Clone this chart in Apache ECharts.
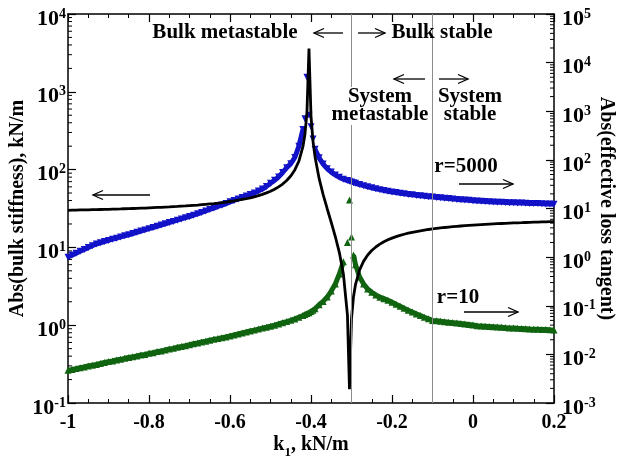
<!DOCTYPE html>
<html>
<head>
<meta charset="utf-8">
<script src="https://cdn.jsdelivr.net/npm/echarts@6/dist/echarts.min.js"></script>
<style>
  html, body { margin: 0; padding: 0; background: #fff; }
  #chart { width: 619px; height: 466px; }
</style>
</head>
<body>
<div id="chart"></div>
<script>
// k1 sample points (kN/m), shared by all three curves
const kValues = [
  -1.00, -0.99, -0.98, -0.97, -0.96, -0.95, -0.94, -0.93, -0.92, -0.91,
  -0.90, -0.89, -0.88, -0.87, -0.86, -0.85, -0.84, -0.83, -0.82, -0.81,
  -0.80, -0.79, -0.78, -0.77, -0.76, -0.75, -0.74, -0.73, -0.72, -0.71,
  -0.70, -0.69, -0.68, -0.67, -0.66, -0.65, -0.64, -0.63, -0.62, -0.61,
  -0.60, -0.59, -0.58, -0.57, -0.56, -0.55, -0.54, -0.53, -0.52, -0.51,
  -0.50, -0.49, -0.48, -0.47, -0.46, -0.45, -0.44, -0.43, -0.42,
  -0.415, -0.41, -0.405, -0.40, -0.395,
  -0.39, -0.38, -0.37, -0.36, -0.35, -0.34, -0.33, -0.32, -0.31,
  -0.305, -0.30, -0.295,
  -0.29, -0.28, -0.27, -0.26, -0.25, -0.24, -0.23, -0.22, -0.21, -0.20,
  -0.19, -0.18, -0.17, -0.16, -0.15, -0.14, -0.13, -0.12, -0.11, -0.10,
  -0.09, -0.08, -0.07, -0.06, -0.05, -0.04, -0.03, -0.02, -0.01, 0.00,
  0.01, 0.02, 0.03, 0.04, 0.05, 0.06, 0.07, 0.08, 0.09, 0.10,
  0.11, 0.12, 0.13, 0.14, 0.15, 0.16, 0.17, 0.18, 0.19, 0.20
]

// Abs(bulk stiffness), kN/m  (left axis, black line)
const bulkStiffness = [
  30.0, 30.1, 30.2, 30.3, 30.3, 30.4, 30.5, 30.6, 30.7, 30.8,
  30.9, 31.0, 31.1, 31.2, 31.4, 31.5, 31.6, 31.7, 31.9, 32.0,
  32.2, 32.4, 32.6, 32.7, 32.9, 33.1, 33.4, 33.6, 33.9, 34.1,
  34.4, 34.7, 35.0, 35.4, 35.8, 36.2, 36.6, 37.1, 37.7, 38.2,
  38.9, 39.6, 40.4, 41.3, 42.3, 43.4, 44.7, 46.3, 48.1, 50.2,
  52.8, 55.9, 60.0, 65.2, 72.4, 82.8, 99.1, 128, 197,
  283, 540, 3600, 488, 231,
  145.6, 77.1, 47.7, 31.4, 21.0, 13.8, 8.57, 4.54, 1.35,
  0.15, 1.22, 2.34,
  3.35, 5.14, 6.66, 7.98, 9.12, 10.12, 11.01, 11.81, 12.52, 13.16,
  13.75, 14.28, 14.76, 15.21, 15.62, 16.00, 16.35, 16.68, 16.99, 17.27,
  17.54, 17.79, 18.03, 18.25, 18.46, 18.66, 18.85, 19.02, 19.19, 19.35,
  19.51, 19.65, 19.79, 19.92, 20.05, 20.17, 20.29, 20.40, 20.51, 20.61,
  20.71, 20.80, 20.90, 20.98, 21.07, 21.15, 21.23, 21.31, 21.38, 21.45
]

// Abs(effective loss tangent), r = 5000  (right axis, blue down-triangles)
const lossTanR5000 = [
  1.00, 1.10, 1.20, 1.32, 1.44, 1.57, 1.72, 1.86, 1.97, 2.09,
  2.21, 2.34, 2.45, 2.60, 2.75, 2.88, 3.05, 3.24, 3.43, 3.63,
  3.85, 4.07, 4.31, 4.57, 4.84, 5.13, 5.43, 5.75, 6.10, 6.46,
  6.84, 7.29, 7.76, 8.32, 8.91, 9.55, 10.2, 11.0, 11.7, 12.6,
  13.7, 14.6, 15.7, 16.8, 18.0, 19.3, 20.9, 22.9, 25.1, 28.5,
  33.1, 38.0, 44.7, 55.0, 69.2, 83.2, 112, 190, 420,
  700, 5000, 830, 480, 270,
  165, 110, 82, 66, 56, 49, 44, 40, 37.5,
  36.5, 35, 34,
  33, 31, 29.5, 28.0, 26.7, 25.5, 24.4, 23.5, 22.7, 21.9,
  21.3, 20.6, 20.1, 19.5, 19.1, 18.6, 18.2, 17.8, 17.5, 17.2,
  16.9, 16.6, 16.3, 16.0, 15.7, 15.4, 15.2, 14.9, 14.7, 14.5,
  14.3, 14.1, 13.9, 13.8, 13.6, 13.5, 13.4, 13.3, 13.2, 13.1,
  13.0, 12.9, 12.8, 12.7, 12.7, 12.6, 12.5, 12.4, 12.4, 12.3
]

// Abs(effective loss tangent), r = 10  (right axis, green up-triangles)
const lossTanR10 = [
  0.0047, 0.0049, 0.0051, 0.0053, 0.0055, 0.0058, 0.0060, 0.0062, 0.0065, 0.0068,
  0.0071, 0.0073, 0.0077, 0.0079, 0.0083, 0.0086, 0.0089, 0.0093, 0.0097, 0.0100,
  0.0105, 0.0108, 0.0114, 0.0117, 0.0123, 0.0129, 0.0133, 0.0140, 0.0145, 0.0151,
  0.0158, 0.0166, 0.0172, 0.0180, 0.0186, 0.0195, 0.0204, 0.0211, 0.0221, 0.0229,
  0.0240, 0.0251, 0.0263, 0.0275, 0.0288, 0.0302, 0.0316, 0.0331, 0.0347, 0.0363,
  0.0380, 0.0398, 0.0422, 0.0447, 0.0473, 0.0501, 0.0537, 0.0582, 0.0631,
  0.066, 0.069, 0.072, 0.076, 0.081,
  0.087, 0.105, 0.123, 0.151, 0.20, 0.28, 0.45, 0.80, 2.0,
  15, 2.6, 1.1,
  0.70, 0.39, 0.28, 0.22, 0.19, 0.166, 0.150, 0.140, 0.130, 0.118,
  0.107, 0.098, 0.089, 0.081, 0.074, 0.068, 0.063, 0.058, 0.054, 0.050,
  0.049, 0.048, 0.047, 0.046, 0.045, 0.044, 0.043, 0.042, 0.041, 0.040,
  0.039, 0.0385, 0.038, 0.0375, 0.037, 0.0365, 0.036, 0.0355, 0.035, 0.0347,
  0.0343, 0.034, 0.0337, 0.0333, 0.033, 0.0328, 0.0325, 0.0323, 0.032, 0.0318
]

// stability boundaries (vertical grey lines)
const boundaries = [-0.3, -0.1]
// k1 where each marker curve blows up; the dense band is left open there
const blueSpike = [-0.415, -0.395]
const greenSpike = [-0.31, -0.30]

const FONT = '"Liberation Serif", "Times New Roman", serif'
const BLUE = '#1212c8'
const GREEN = '#106410'
const chart = echarts.init(document.getElementById('chart'), null, { renderer: 'canvas' })

const pairs = (vals) => kValues.map((k, i) => [k, vals[i]])
// same points, with a gap across the spike so the band is not joined through it
const bandPairs = (vals, gap) =>
  kValues.map((k, i) => [k, k >= gap[0] - 1e-9 && k <= gap[1] + 1e-9 ? null : vals[i]])

function powLabel(value) {
  const e = Math.round(Math.log10(value))
  return '{b|10}{s|' + e + '}'
}
const powRich = {
  b: { fontFamily: FONT, fontWeight: 'bold', fontSize: 22, color: '#000', lineHeight: 32, verticalAlign: 'bottom' },
  s: { fontFamily: FONT, fontWeight: 'bold', fontSize: 14, color: '#000', verticalAlign: 'middle' }
}

const xCommon = {
  type: 'value',
  min: -1,
  max: 0.2,
  interval: 0.2,
  splitLine: { show: false },
  axisLine: { show: true, onZero: false, lineStyle: { color: '#000', width: 1.5 } },
  axisTick: { inside: true, length: 8, lineStyle: { color: '#000', width: 1.2 } },
  minorTick: { show: true, splitNumber: 4, length: 4, lineStyle: { color: '#000', width: 1 } }
}

const option = {
  animation: false,
  backgroundColor: '#fff',
  grid: { left: 68, right: 65, top: 14, bottom: 63, containLabel: false, outerBoundsMode: 'none' },
  xAxis: [
    {
      ...xCommon,
      position: 'bottom',
      name: '{a|k}{sub|1}{a|, kN/m}',
      nameLocation: 'middle',
      nameGap: 32,
      nameMoveOverlap: false,
      nameTextStyle: {
        rich: {
          a: { fontFamily: FONT, fontWeight: 'bold', fontSize: 20, color: '#000', lineHeight: 24, verticalAlign: 'top' },
          sub: { fontFamily: FONT, fontWeight: 'bold', fontSize: 13, color: '#000', verticalAlign: 'bottom' }
        }
      },
      axisLabel: { margin: 10, fontFamily: FONT, fontWeight: 'bold', fontSize: 20, color: '#000' }
    },
    {
      ...xCommon,
      position: 'top',
      axisLabel: { show: false }
    }
  ],
  yAxis: [
    {
      type: 'log',
      logBase: 10,
      min: 0.1,
      max: 10000,
      splitNumber: 5,
      position: 'left',
      name: 'Abs(bulk stiffness), kN/m',
      nameLocation: 'middle',
      nameGap: 40,
      nameMoveOverlap: false,
      nameTextStyle: { fontFamily: FONT, fontWeight: 'bold', fontSize: 20, color: '#000' },
      splitLine: { show: false },
      axisLine: { show: true, onZero: false, lineStyle: { color: '#000', width: 1.5 } },
      axisTick: { inside: true, length: 8, lineStyle: { color: '#000', width: 1.2 } },
      axisLabel: { margin: 2, formatter: powLabel, rich: powRich }
    },
    {
      type: 'log',
      logBase: 10,
      min: 0.001,
      max: 100000,
      splitNumber: 8,
      position: 'right',
      name: 'Abs(effective loss tangent)',
      nameLocation: 'middle',
      nameRotate: -90,
      nameGap: 42,
      nameMoveOverlap: false,
      nameTextStyle: { fontFamily: FONT, fontWeight: 'bold', fontSize: 20, color: '#000' },
      splitLine: { show: false },
      axisLine: { show: true, onZero: false, lineStyle: { color: '#000', width: 1.5 } },
      axisTick: { inside: true, length: 8, lineStyle: { color: '#000', width: 1.2 } },
      axisLabel: { margin: 8, formatter: powLabel, rich: powRich }
    }
  ],
  series: [
    {
      name: 'r=5000 band',
      type: 'line',
      yAxisIndex: 1,
      showSymbol: false,
      connectNulls: false,
      lineStyle: { color: BLUE, width: 5 },
      data: bandPairs(lossTanR5000, blueSpike),
      z: 1
    },
    {
      name: 'r=5000',
      type: 'scatter',
      yAxisIndex: 1,
      symbol: 'triangle',
      symbolRotate: 180,
      symbolSize: 7,
      itemStyle: { color: BLUE, opacity: 1 },
      data: pairs(lossTanR5000),
      z: 2
    },
    {
      name: 'r=10 band',
      type: 'line',
      yAxisIndex: 1,
      showSymbol: false,
      connectNulls: false,
      lineStyle: { color: GREEN, width: 5 },
      data: bandPairs(lossTanR10, greenSpike),
      z: 1
    },
    {
      name: 'r=10',
      type: 'scatter',
      yAxisIndex: 1,
      symbol: 'triangle',
      symbolSize: 7,
      itemStyle: { color: GREEN, opacity: 1 },
      data: pairs(lossTanR10),
      z: 2
    },
    {
      name: 'bulk stiffness',
      type: 'line',
      yAxisIndex: 0,
      showSymbol: false,
      lineStyle: { color: '#000', width: 2.8 },
      data: pairs(bulkStiffness),
      z: 3,
      markLine: {
        silent: true,
        symbol: ['none', 'none'],
        label: { show: false },
        lineStyle: { color: '#8c8c8c', width: 1, type: 'solid' },
        data: boundaries.map((b) => ({ xAxis: b }))
      }
    }
  ]
}

chart.setOption(option)

// log minor ticks (2..9 within each decade), placed through the axes' own scales
function minorLogTicks(axisIndex, loExp, hiExp, side) {
  const xLeft = chart.convertToPixel({ xAxisIndex: 0 }, -1)
  const xRight = chart.convertToPixel({ xAxisIndex: 0 }, 0.2)
  const x0 = side === 'left' ? xLeft : xRight
  const dir = side === 'left' ? 1 : -1
  const out = []
  for (let e = loExp; e < hiExp; e++) {
    for (let m = 2; m <= 9; m++) {
      const y = chart.convertToPixel({ yAxisIndex: axisIndex }, m * Math.pow(10, e))
      out.push({
        type: 'line',
        shape: { x1: x0, y1: y, x2: x0 + dir * 4, y2: y },
        style: { stroke: '#000', lineWidth: 1 }
      })
    }
  }
  return out
}

function arrow(x1, x2, y) {
  const d = x2 > x1 ? 1 : -1
  return {
    type: 'group',
    children: [
      { type: 'line', shape: { x1: x1, y1: y, x2: x2, y2: y }, style: { stroke: '#000', lineWidth: 1.3 } },
      {
        type: 'polyline',
        shape: { points: [[x2 - d * 10, y - 4.5], [x2, y], [x2 - d * 10, y + 4.5]] },
        style: { stroke: '#000', lineWidth: 1.3, fill: null }
      }
    ]
  }
}

function label(text, x, y, withBg) {
  return {
    type: 'text',
    x: x,
    y: y,
    z: 100,
    style: {
      text: text,
      font: 'bold 21px ' + FONT,
      fill: '#000',
      align: 'center',
      verticalAlign: 'middle',
      lineHeight: 18,
      backgroundColor: withBg ? '#fff' : null,
      padding: withBg ? [1, 1, 1, 1] : 0
    }
  }
}

chart.setOption({
  graphic: [
    ...minorLogTicks(0, -1, 4, 'left'),
    ...minorLogTicks(1, -3, 5, 'right'),
    label('Bulk metastable', 225, 33, false),
    arrow(343, 314, 33),
    arrow(358, 385, 33),
    label('Bulk stable', 442, 33, false),
    arrow(425, 394, 79),
    arrow(439, 468, 79),
    label('System\nmetastable', 380, 106, true),
    label('System\nstable', 470, 106, true),
    arrow(150, 93, 195),
    label('r=5000', 466, 167, false),
    arrow(459, 513, 184),
    label('r=10', 458, 298, false),
    arrow(464, 518, 312)
  ]
})
</script>
</body>
</html>
